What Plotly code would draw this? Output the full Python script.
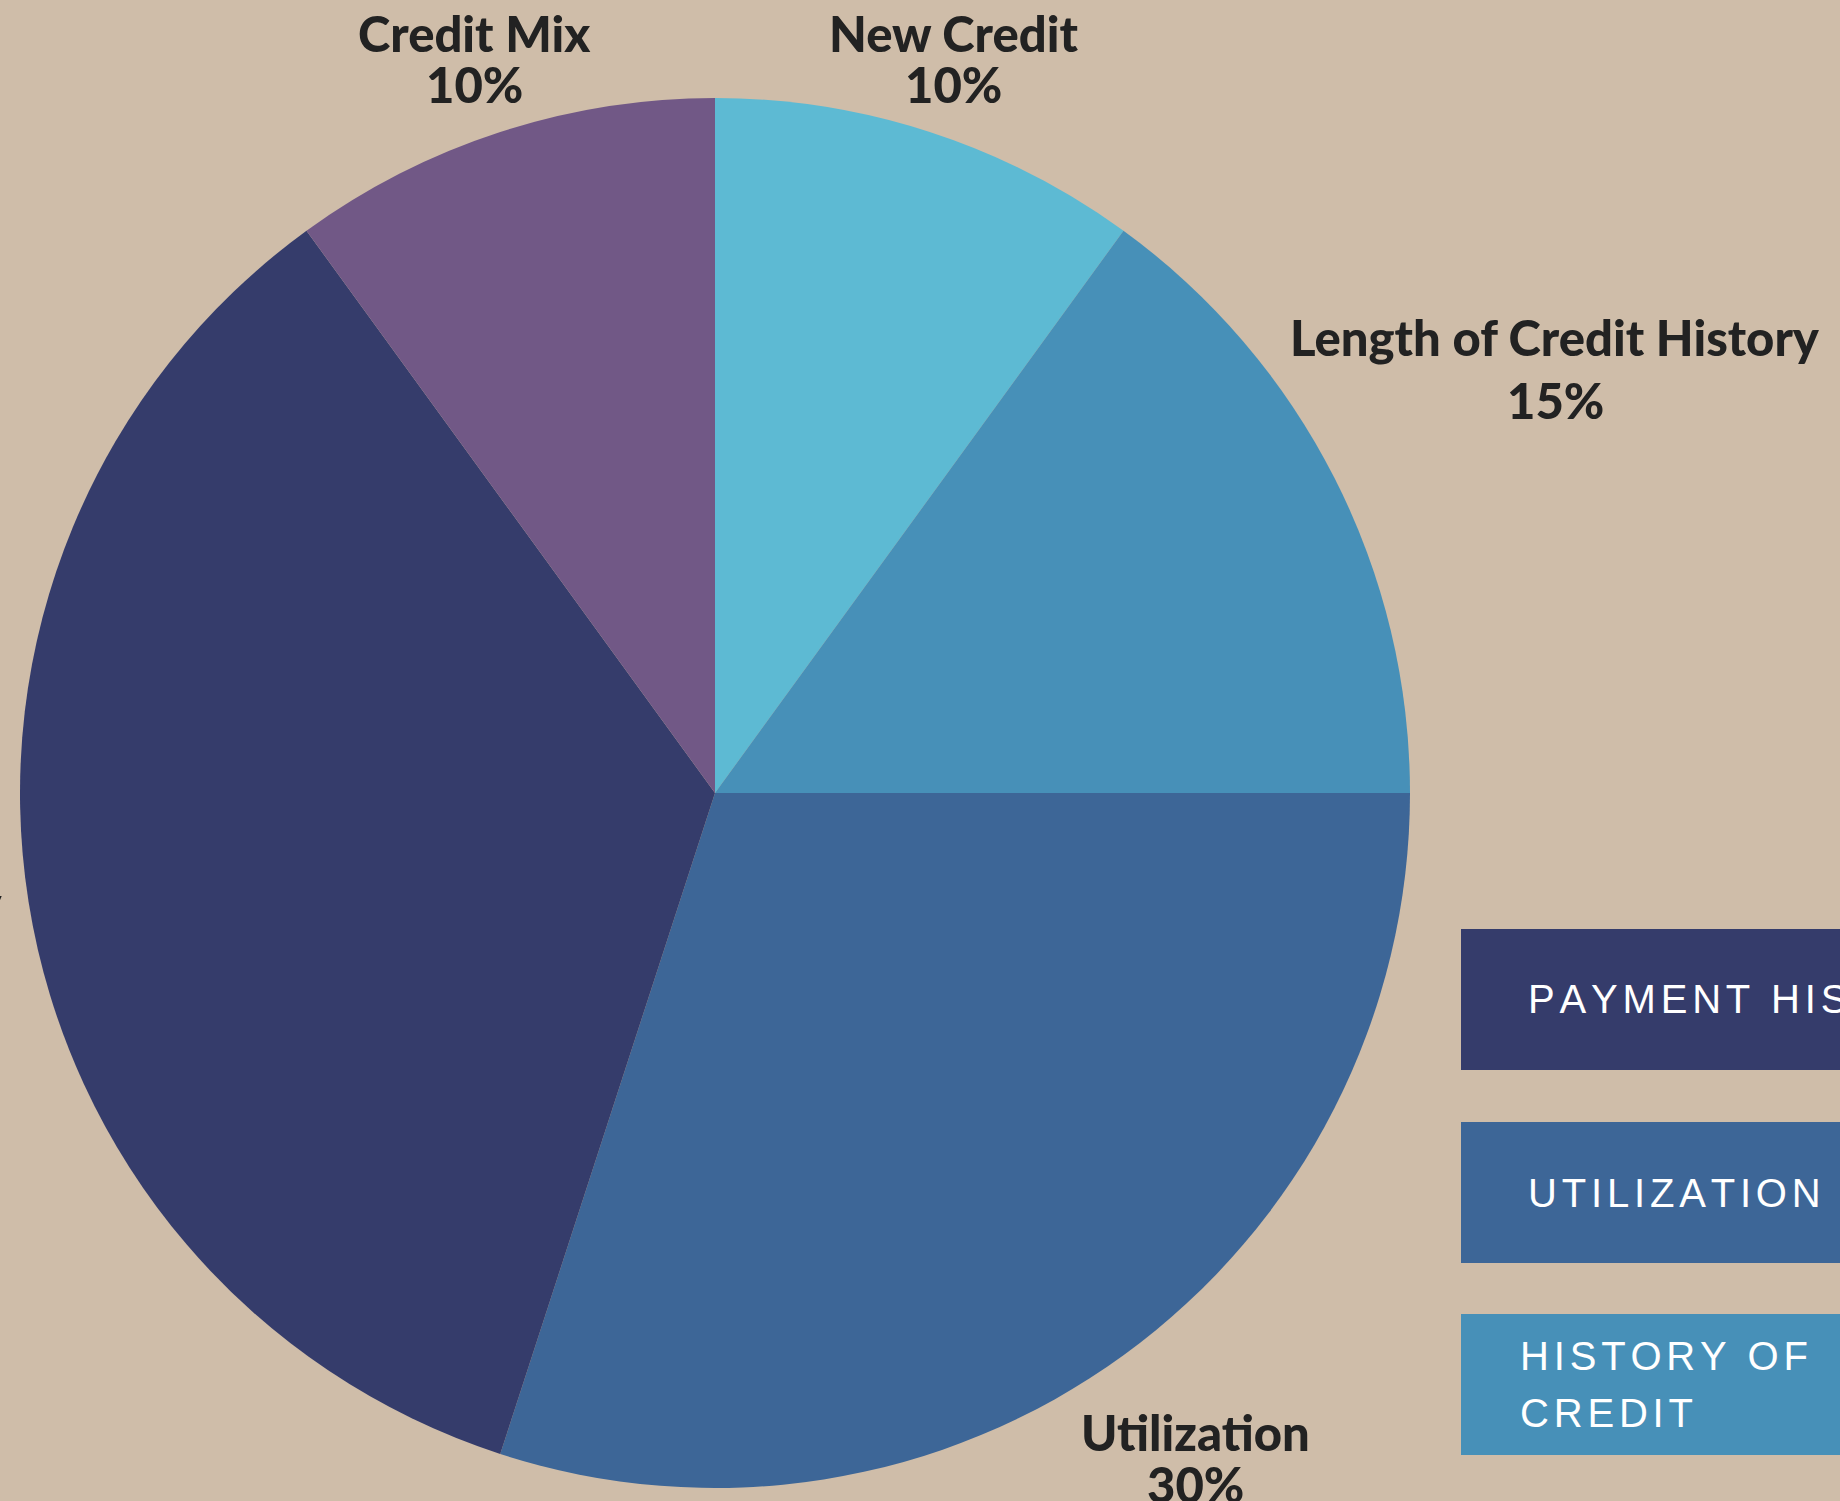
import plotly.graph_objects as go

W, H = 1840, 1501

categories = ["New Credit", "Length of Credit History", "Utilization", "Payment History", "Credit Mix"]
values = [10, 15, 30, 35, 10]
colors = ["#5DBAD3", "#4790B8", "#3D6697", "#353C6B", "#715886"]
legend_items = [["PAYMENT HISTORY"], ["UTILIZATION"], ["HISTORY OF", "CREDIT"]]
legend_colors = ["#353C6B", "#3D6697", "#4790B8"]

BG = "#CFBDA9"
TXT = "#222222"


def px(x):
    return x / W


def py(y):
    return 1 - y / H


def spaced(s):
    gap = '<span style="font-size:24px">\u2009</span>'
    return gap.join(list(s))


fig = go.Figure()
fig.add_trace(go.Pie(
    labels=categories,
    values=values,
    marker=dict(colors=colors, line=dict(width=0)),
    sort=False,
    direction="clockwise",
    rotation=0,
    textinfo="none",
    hoverinfo="label+percent",
    showlegend=False,
    domain=dict(x=[px(20), px(1410)], y=[py(1488), py(98)]),
))

label_font = dict(family="Lato, Liberation Sans, sans-serif", size=49, color=TXT, weight=900)

anns = []
pct = {c: f"{v}%" for c, v in zip(categories, values)}
label_pos = {
    "Credit Mix": (475, 33, 84),
    "New Credit": (953, 33, 84),
    "Length of Credit History": (1555, 337, 400),
    "Utilization": (1195, 1432, 1484),
}
for name, (x, y1, y2) in label_pos.items():
    anns.append(dict(x=px(x), y=py(y1), text=name, showarrow=False, xref="paper", yref="paper",
                     xanchor="center", yanchor="middle", font=label_font))
    anns.append(dict(x=px(x), y=py(y2), text=pct[name], showarrow=False, xref="paper", yref="paper",
                     xanchor="center", yanchor="middle", font=label_font))
# clipped Payment History label at left edge
anns.append(dict(x=px(5), y=py(903), text="Payment History", showarrow=False, xref="paper", yref="paper",
                 xanchor="right", yanchor="middle", font=label_font))
anns.append(dict(x=px(-200), y=py(966), text=pct["Payment History"], showarrow=False, xref="paper", yref="paper",
                 xanchor="center", yanchor="middle", font=label_font))

shapes = []
boxes = [(929, 1070), (1122, 1263), (1314, 1455)]
text_x = [1526, 1526, 1518]
for (y0, y1), col, lines, tx in zip(boxes, legend_colors, legend_items, text_x):
    shapes.append(dict(type="rect", xref="paper", yref="paper", x0=px(1461), x1=px(1900),
                       y0=py(y1), y1=py(y0), fillcolor=col, line=dict(width=0), layer="below"))
    mid = (y0 + y1) / 2
    n = len(lines)
    for i, line in enumerate(lines):
        yc = mid + (i - (n - 1) / 2) * 57
        anns.append(dict(x=px(tx), y=py(yc), text=spaced(line), showarrow=False,
                         xref="paper", yref="paper", xanchor="left", yanchor="middle", align="left",
                         font=dict(family="Liberation Sans, Arial, sans-serif", size=40, color="white")))

fig.update_layout(
    width=W, height=H,
    margin=dict(l=0, r=0, t=0, b=0),
    paper_bgcolor=BG, plot_bgcolor=BG,
    annotations=anns, shapes=shapes,
    showlegend=False,
)

fig.write_html("out.html")
